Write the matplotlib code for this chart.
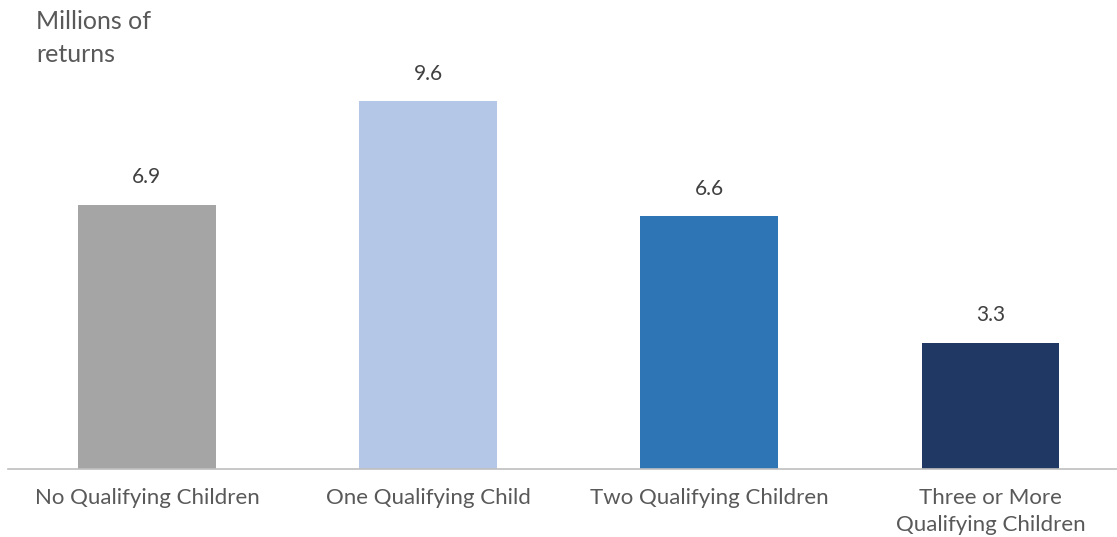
import matplotlib.pyplot as plt

categories = ["No Qualifying Children", "One Qualifying Child",
              "Two Qualifying Children", "Three or More\nQualifying Children"]
values = [6.9, 9.6, 6.6, 3.3]
colors = ["#A5A5A5", "#B4C7E7", "#2E75B6", "#203864"]

plt.rcParams['font.family'] = ['Lato', 'DejaVu Sans']

fig = plt.figure(figsize=(11.17, 5.37), dpi=100)
ax = fig.add_axes([8 / 1117, 68 / 537, 1109 / 1117, 469 / 537])

x = range(len(categories))
bars = ax.bar(x, values, width=0.49, color=colors, zorder=2)

for xi, v in zip(x, values):
    ax.text(xi, v + 0.45, f"{v:.1f}", ha="center", va="bottom",
            fontsize=15, color="#404040")

ax.set_xlim(-0.494, 3.45)
ax.set_ylim(0, 12.24)
ax.set_xticks(list(x))
ax.set_xticklabels(categories, fontsize=16, color="#595959", linespacing=1.4)
ax.tick_params(axis="x", length=0, pad=14)
ax.set_yticks([])
for s in ["top", "right", "left"]:
    ax.spines[s].set_visible(False)
ax.spines["bottom"].set_color("#BFBFBF")
ax.spines["bottom"].set_linewidth(1.2)

fig.text(36 / 1117, 1 - 10 / 537, "Millions of\nreturns", ha="left", va="top",
         fontsize=18, color="#595959", linespacing=1.5)

fig.savefig("out.png", dpi=100)
